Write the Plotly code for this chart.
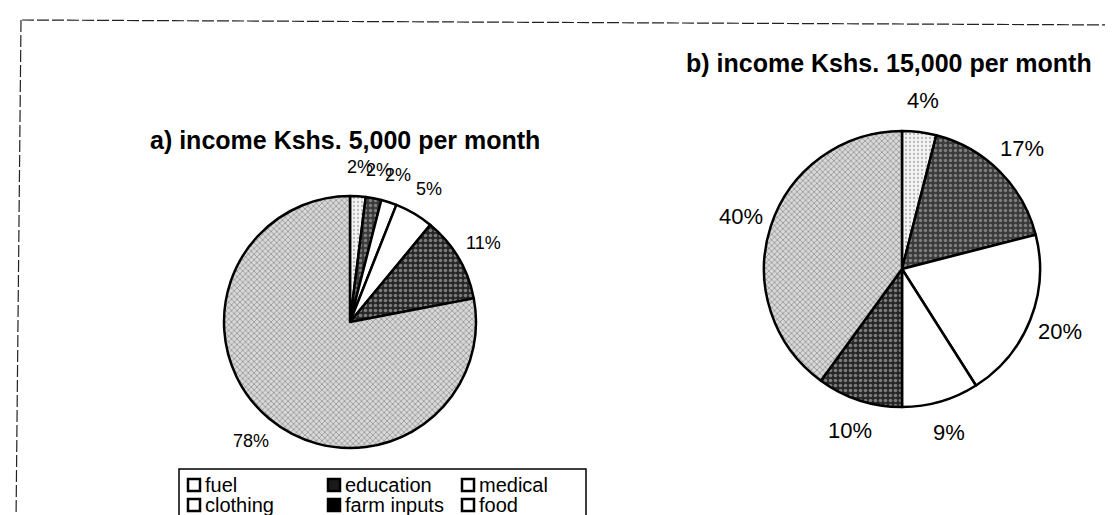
import math
import plotly.graph_objects as go

# ---- data ----
categories = ["fuel", "education", "medical", "clothing", "farm inputs", "food"]
values_a = [2, 2, 2, 5, 11, 78]
values_b = [4, 17, 20, 9, 10, 40]
title_a = "a) income Kshs. 5,000 per month"
title_b = "b) income Kshs. 15,000 per month"

# ---- styles ----
W, H = 1113, 515
slice_colors = ["#f4f4f4", "#3a3a3a", "#ffffff", "#ffffff", "#262626", "#d8d8d8"]
pat_shapes = [".", ".", "", "", ".", "x"]
pat_fg = ["#7a7a7a", "#c4c4c4", "#000000", "#000000", "#d2d2d2", "#4a4a4a"]
pat_size = [4, 5, 4, 4, 5, 4]
pat_sol = [0.25, 0.35, 0.2, 0.2, 0.4, 0.35]
FONT = "Liberation Sans, Arial, sans-serif"

# pie geometry in pixels (center x, center y from top, radius)
geo_a = (342, 314, 126)
geo_b = (894, 261, 138)


def domain(cx, cy, r):
    return dict(x=[(cx - r) / W, (cx + r) / W],
                y=[(H - cy - r) / H, (H - cy + r) / H])


def make_pie(vals, geo):
    return go.Pie(
        labels=categories, values=vals, sort=False, direction="clockwise",
        rotation=0, textinfo="none", hoverinfo="label+percent",
        showlegend=False, domain=domain(*geo),
        marker=dict(colors=slice_colors,
                    line=dict(color="#000000", width=2.5),
                    pattern=dict(shape=pat_shapes, fgcolor=pat_fg,
                                 size=pat_size, solidity=pat_sol,
                                 fillmode="overlay")),
    )


fig = go.Figure([make_pie(values_a, geo_a), make_pie(values_b, geo_b)])

annotations = []
shapes = []


def pct_labels(vals, geo, f, size):
    cx, cy, r = geo
    total = sum(vals)
    cum = 0
    for v in vals:
        mid = (cum + v / 2) / total * 2 * math.pi
        cum += v
        x = cx + math.sin(mid) * r * f
        y = cy - math.cos(mid) * r * f
        annotations.append(dict(
            x=x / W, y=(H - y) / H, xref="paper", yref="paper",
            text=f"{round(v / total * 100)}%", showarrow=False,
            xanchor="center", yanchor="middle",
            font=dict(family=FONT, size=size, color="#000")))


pct_labels(values_a, geo_a, 1.23, 18)
pct_labels(values_b, geo_b, 1.23, 22)

# titles
annotations.append(dict(x=337 / W, y=(H - 132) / H, xref="paper", yref="paper",
                        text=f"<b>{title_a}</b>", showarrow=False,
                        xanchor="center", yanchor="middle",
                        font=dict(family=FONT, size=25, color="#000")))
annotations.append(dict(x=881 / W, y=(H - 55) / H, xref="paper", yref="paper",
                        text=f"<b>{title_b}</b>", showarrow=False,
                        xanchor="center", yanchor="middle",
                        font=dict(family=FONT, size=25, color="#000")))

# legend box
shapes.append(dict(type="rect", xref="paper", yref="paper",
                   x0=171 / W, x1=578 / W, y0=(H - 513) / H, y1=(H - 461) / H,
                   line=dict(color="#000", width=1.5), fillcolor="rgba(0,0,0,0)"))

icon_fill = ["#ffffff", "#1a1a1a", "#ffffff", "#ffffff", "#000000", "#ffffff"]
col_x = [180, 320, 454]
row_y = [477, 497]
for i, cat in enumerate(categories):
    col, row = i % 3, i // 3
    x0 = col_x[col]
    yc = row_y[row]
    shapes.append(dict(type="rect", xref="paper", yref="paper",
                       x0=x0 / W, x1=(x0 + 12) / W,
                       y0=(H - yc - 6) / H, y1=(H - yc + 6) / H,
                       line=dict(color="#000", width=2.5), fillcolor=icon_fill[i]))
    annotations.append(dict(x=(x0 + 15) / W, y=(H - yc) / H, xref="paper", yref="paper",
                            text=cat, showarrow=False, xanchor="left", yanchor="middle",
                            font=dict(family=FONT, size=20, color="#000")))

# outer frame (scanned border)
frame = [((14, 12), (1113, 17)), ((13, 12), (8, 515)), ((1112, 258), (1107, 515))]
for (x0, y0), (x1, y1) in frame:
    shapes.append(dict(type="line", xref="paper", yref="paper",
                       x0=x0 / W, y0=(H - y0) / H, x1=x1 / W, y1=(H - y1) / H,
                       line=dict(color="#222", width=1.2, dash="12px,3px")))

fig.update_layout(
    width=W, height=H, margin=dict(l=0, r=0, t=0, b=0),
    paper_bgcolor="#ffffff", plot_bgcolor="#ffffff",
    annotations=annotations, shapes=shapes,
)

fig.write_html("out.html")
